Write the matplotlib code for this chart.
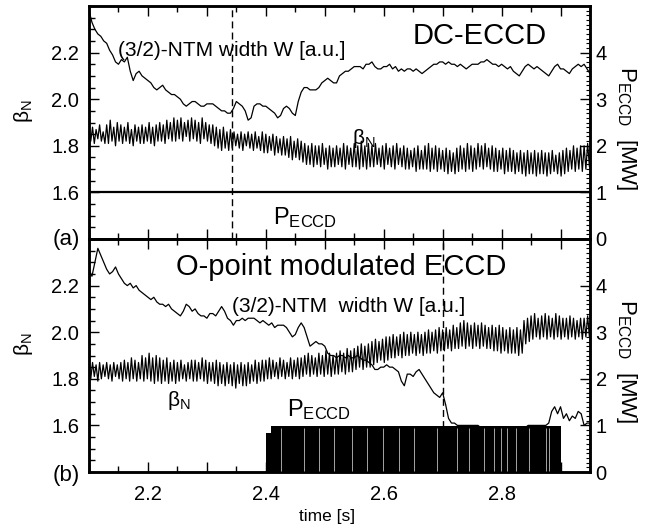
import numpy as np
import matplotlib
matplotlib.use("Agg")
import matplotlib.pyplot as plt
from matplotlib.ticker import MultipleLocator, FixedLocator, FuncFormatter

plt.rcParams['font.family'] = ['Liberation Sans', 'DejaVu Sans']
plt.rcParams['mathtext.fontset'] = 'custom'
plt.rcParams['mathtext.rm'] = 'Liberation Sans'
plt.rcParams['mathtext.it'] = 'Liberation Sans:italic'
plt.rcParams['mathtext.bf'] = 'Liberation Sans:bold'

# ---------------- data ----------------
t_start = 2.10
w_step = 0.005      # sampling of the NTM width traces [s]
beta_step = 0.003   # sampling of the beta_N traces [s]

# (a) DC-ECCD: NTM width W [a.u., plotted on beta_N scale]
W_a = [2.38, 2.33, 2.30, 2.28, 2.27, 2.25, 2.24, 2.21, 2.19, 2.16,
       2.15, 2.17, 2.16, 2.18, 2.12, 2.08, 2.11, 2.12, 2.10, 2.09,
       2.08, 2.07, 2.05, 2.04, 2.05, 2.06, 2.04, 2.03, 2.02, 2.02,
       2.01, 2.00, 1.98, 1.97, 1.98, 1.99, 1.99, 1.98, 1.97, 1.97,
       1.98, 1.98, 1.98, 1.97, 1.96, 1.95, 1.95, 1.94, 1.94, 1.96,
       1.99, 1.98, 1.97, 1.95, 1.91, 1.92, 1.97, 1.98, 1.98, 1.97,
       1.97, 1.96, 1.95, 1.94, 1.92, 1.93, 1.96, 1.97, 1.96, 1.94,
       1.93, 1.99, 2.03, 2.05, 2.05, 2.04, 2.04, 2.04, 2.05, 2.07,
       2.08, 2.09, 2.08, 2.07, 2.07, 2.10, 2.11, 2.12, 2.12, 2.13,
       2.14, 2.14, 2.14, 2.13, 2.15, 2.15, 2.16, 2.14, 2.13, 2.13,
       2.14, 2.14, 2.15, 2.13, 2.14, 2.12, 2.13, 2.12, 2.13, 2.13,
       2.12, 2.13, 2.12, 2.11, 2.12, 2.13, 2.14, 2.15, 2.15, 2.16,
       2.16, 2.15, 2.16, 2.15, 2.15, 2.14, 2.15, 2.14, 2.13, 2.14,
       2.15, 2.15, 2.15, 2.16, 2.16, 2.17, 2.16, 2.15, 2.15, 2.14,
       2.15, 2.14, 2.13, 2.14, 2.12, 2.11, 2.10, 2.12, 2.14, 2.15,
       2.14, 2.13, 2.14, 2.13, 2.12, 2.11, 2.10, 2.12, 2.14, 2.15,
       2.13, 2.13, 2.12, 2.11, 2.13, 2.14, 2.15, 2.14, 2.15, 2.13,
       2.11]

# (a) beta_N
beta_a = [1.86, 1.82, 1.88, 1.81, 1.87, 1.83, 1.89, 1.82, 1.86, 1.81,
          1.89, 1.81, 1.91, 1.82, 1.88, 1.80, 1.90, 1.82, 1.89, 1.81,
          1.88, 1.82, 1.90, 1.81, 1.87, 1.80, 1.89, 1.82, 1.88, 1.81,
          1.89, 1.81, 1.88, 1.82, 1.90, 1.81, 1.88, 1.80, 1.89, 1.82,
          1.90, 1.82, 1.89, 1.81, 1.91, 1.83, 1.90, 1.82, 1.92, 1.82,
          1.91, 1.83, 1.92, 1.82, 1.90, 1.84, 1.91, 1.82, 1.92, 1.83,
          1.91, 1.82, 1.90, 1.81, 1.92, 1.83, 1.90, 1.82, 1.89, 1.81,
          1.89, 1.80, 1.88, 1.79, 1.87, 1.78, 1.88, 1.79, 1.86, 1.78,
          1.87, 1.79, 1.86, 1.80, 1.85, 1.79, 1.86, 1.78, 1.85, 1.80,
          1.86, 1.79, 1.85, 1.78, 1.86, 1.79, 1.84, 1.78, 1.86, 1.77,
          1.85, 1.77, 1.84, 1.78, 1.85, 1.76, 1.84, 1.77, 1.83, 1.76,
          1.84, 1.76, 1.83, 1.75, 1.84, 1.74, 1.82, 1.75, 1.83, 1.74,
          1.82, 1.73, 1.81, 1.72, 1.80, 1.72, 1.81, 1.71, 1.80, 1.72,
          1.80, 1.71, 1.81, 1.72, 1.79, 1.70, 1.80, 1.71, 1.79, 1.71,
          1.80, 1.72, 1.79, 1.71, 1.81, 1.70, 1.80, 1.72, 1.79, 1.71,
          1.81, 1.71, 1.80, 1.70, 1.82, 1.71, 1.80, 1.70, 1.81, 1.71,
          1.80, 1.71, 1.81, 1.72, 1.79, 1.71, 1.80, 1.70, 1.81, 1.72,
          1.79, 1.71, 1.80, 1.70, 1.81, 1.72, 1.79, 1.71, 1.80, 1.70,
          1.79, 1.70, 1.78, 1.71, 1.79, 1.69, 1.80, 1.70, 1.78, 1.70,
          1.80, 1.70, 1.81, 1.69, 1.79, 1.70, 1.80, 1.69, 1.79, 1.70,
          1.78, 1.69, 1.79, 1.68, 1.78, 1.69, 1.77, 1.68, 1.79, 1.69,
          1.80, 1.70, 1.79, 1.69, 1.81, 1.70, 1.80, 1.69, 1.79, 1.70,
          1.81, 1.71, 1.80, 1.70, 1.81, 1.71, 1.79, 1.70, 1.80, 1.69,
          1.79, 1.69, 1.78, 1.70, 1.79, 1.68, 1.78, 1.69, 1.79, 1.69,
          1.78, 1.68, 1.77, 1.69, 1.78, 1.68, 1.77, 1.67, 1.78, 1.68,
          1.77, 1.68, 1.78, 1.67, 1.77, 1.68, 1.78, 1.68, 1.77, 1.67,
          1.77, 1.68, 1.78, 1.69, 1.76, 1.68, 1.77, 1.67, 1.78, 1.68,
          1.79, 1.69, 1.78, 1.70, 1.80, 1.69, 1.79, 1.70, 1.80, 1.69,
          1.80, 1.70, 1.81, 1.71, 1.80, 1.70, 1.79, 1.71, 1.80, 1.70]

# (a) P_ECCD [MW]: constant DC power
P_a_t = [2.10, 2.95]
P_a = [1.0, 1.0]
mark_a = 2.343   # dashed marker time

# (b) O-point modulated ECCD: NTM width W
W_b = [2.27, 2.24, 2.30, 2.36, 2.33, 2.30, 2.27, 2.25, 2.26, 2.28,
       2.25, 2.23, 2.21, 2.20, 2.21, 2.19, 2.20, 2.18, 2.17, 2.16,
       2.15, 2.14, 2.15, 2.13, 2.12, 2.12, 2.11, 2.12, 2.10, 2.09,
       2.08, 2.07, 2.09, 2.12, 2.11, 2.09, 2.10, 2.08, 2.07, 2.07,
       2.06, 2.08, 2.08, 2.07, 2.09, 2.11, 2.09, 2.06, 2.05, 2.03,
       2.05, 2.05, 2.06, 2.05, 2.06, 2.06, 2.06, 2.05, 2.04, 2.05,
       2.04, 2.03, 2.04, 2.02, 2.03, 2.03, 2.03, 2.02, 2.00, 1.98,
       1.99, 2.02, 2.04, 2.02, 1.98, 1.94, 1.95, 1.96, 1.95, 1.95,
       1.94, 1.91, 1.90, 1.90, 1.89, 1.90, 1.90, 1.89, 1.90, 1.89,
       1.89, 1.90, 1.89, 1.88, 1.88, 1.87, 1.86, 1.84, 1.84, 1.85,
       1.85, 1.86, 1.85, 1.85, 1.84, 1.83, 1.79, 1.77, 1.82, 1.82,
       1.81, 1.83, 1.84, 1.82, 1.80, 1.78, 1.76, 1.74, 1.73, 1.72,
       1.74, 1.69, 1.63, 1.61, 1.61, 1.60, 1.60, 1.60, 1.60, 1.60,
       1.60, 1.60, 1.60, 1.59, 1.59, 1.58, 1.58, 1.57, 1.57, 1.56,
       1.56, 1.55, 1.56, 1.57, 1.57, 1.58, 1.59, 1.59, 1.59, 1.60,
       1.60, 1.60, 1.60, 1.60, 1.60, 1.60, 1.61, 1.66, 1.68, 1.65,
       1.68, 1.63, 1.65, 1.62, 1.64, 1.63, 1.66, 1.65, 1.60, 1.61,
       1.61]

# (b) beta_N
beta_b = [1.86, 1.80, 1.87, 1.81, 1.86, 1.79, 1.87, 1.80, 1.86, 1.81,
          1.87, 1.80, 1.86, 1.79, 1.87, 1.81, 1.86, 1.80, 1.87, 1.79,
          1.88, 1.80, 1.87, 1.79, 1.89, 1.80, 1.88, 1.79, 1.87, 1.80,
          1.90, 1.79, 1.89, 1.80, 1.91, 1.79, 1.89, 1.78, 1.90, 1.79,
          1.89, 1.78, 1.88, 1.79, 1.89, 1.78, 1.87, 1.79, 1.88, 1.78,
          1.87, 1.79, 1.88, 1.80, 1.86, 1.79, 1.87, 1.80, 1.88, 1.79,
          1.88, 1.79, 1.87, 1.80, 1.89, 1.79, 1.88, 1.78, 1.87, 1.79,
          1.87, 1.78, 1.88, 1.77, 1.87, 1.78, 1.86, 1.77, 1.87, 1.78,
          1.86, 1.77, 1.87, 1.76, 1.86, 1.78, 1.87, 1.77, 1.86, 1.77,
          1.87, 1.78, 1.86, 1.79, 1.88, 1.78, 1.87, 1.79, 1.88, 1.79,
          1.88, 1.80, 1.89, 1.80, 1.88, 1.81, 1.87, 1.80, 1.89, 1.81,
          1.88, 1.80, 1.87, 1.81, 1.89, 1.80, 1.88, 1.81, 1.89, 1.80,
          1.89, 1.81, 1.90, 1.82, 1.91, 1.81, 1.90, 1.82, 1.89, 1.81,
          1.91, 1.82, 1.90, 1.81, 1.92, 1.82, 1.91, 1.81, 1.90, 1.82,
          1.91, 1.82, 1.92, 1.83, 1.91, 1.82, 1.93, 1.83, 1.92, 1.83,
          1.93, 1.84, 1.94, 1.85, 1.95, 1.84, 1.94, 1.85, 1.95, 1.85,
          1.96, 1.86, 1.97, 1.87, 1.96, 1.88, 1.97, 1.87, 1.98, 1.88,
          1.98, 1.89, 1.99, 1.89, 1.98, 1.90, 1.99, 1.89, 2.00, 1.90,
          1.99, 1.90, 2.00, 1.91, 1.99, 1.90, 2.00, 1.91, 1.99, 1.90,
          2.00, 1.91, 2.01, 1.91, 2.00, 1.92, 2.01, 1.91, 2.02, 1.92,
          2.01, 1.92, 2.02, 1.93, 2.01, 1.92, 2.03, 1.93, 2.02, 1.93,
          2.04, 1.94, 2.05, 1.93, 2.04, 1.94, 2.03, 1.93, 2.04, 1.94,
          2.03, 1.93, 2.04, 1.94, 2.03, 1.93, 2.02, 1.93, 2.03, 1.92,
          2.02, 1.92, 2.03, 1.91, 2.02, 1.92, 2.01, 1.91, 2.02, 1.91,
          2.01, 1.91, 2.02, 1.90, 2.01, 1.91, 2.05, 1.95, 2.06, 1.96,
          2.07, 1.97, 2.08, 1.98, 2.06, 1.97, 2.07, 1.98, 2.08, 1.97,
          2.07, 1.98, 2.06, 1.97, 2.08, 1.98, 2.07, 1.97, 2.06, 1.98,
          2.06, 1.97, 2.07, 1.98, 2.06, 1.97, 2.05, 1.98, 2.06, 1.97,
          2.06, 1.98, 2.07, 1.98, 2.06, 1.99, 2.07, 1.98, 2.06, 1.98]

# (b) P_ECCD [MW]: modulated power, envelope steps and gaps between pulses
P_b_t = [2.400, 2.408, 2.900]
P_b = [0.84, 0.98, 0.98]
P_b_gaps = [2.425, 2.465, 2.490, 2.516, 2.547, 2.572, 2.598, 2.626,
            2.651, 2.691, 2.725, 2.745, 2.770, 2.787, 2.799,
            2.810, 2.824, 2.847, 2.875, 2.881]
mark_b = 2.700

beta_ticks = [1.6, 1.8, 2.0, 2.2]
p_ticks = [0, 1, 2, 3, 4]

# ---------------- figure ----------------
W, H = 664, 528
fig = plt.figure(figsize=(W / 100, H / 100), dpi=100)

def box(l, t, r, b):
    return [l / W, 1 - b / H, (r - l) / W, (b - t) / H]

ax_a = fig.add_axes(box(89, 6, 590, 239))
ax_b = fig.add_axes(box(89, 239, 590, 472))

def xfmt(x, pos):
    k = int(round(x * 10))
    if k % 2 == 0 and 21 < k < 29:
        return f"{x:.1f}"
    return ""

panels = []
for ax, Wv, bv, mark in [(ax_a, W_a, beta_a, mark_a), (ax_b, W_b, beta_b, mark_b)]:
    tw = t_start + w_step * np.arange(len(Wv))
    tb = t_start + beta_step * np.arange(len(bv))
    ax.plot(tw, Wv, color='black', lw=0.9, zorder=3)
    ax.plot(tb, bv, color='black', lw=0.9, zorder=3)
    ax.axvline(mark, color='black', lw=1.0, ls=(0, (5, 3)), zorder=2)
    ax.set_xlim(2.10, 2.95)
    ax.set_ylim(1.40, 2.40)
    ax.yaxis.set_major_locator(FixedLocator(beta_ticks))
    ax.yaxis.set_minor_locator(MultipleLocator(0.05))
    ax.xaxis.set_major_locator(MultipleLocator(0.1))
    ax.xaxis.set_minor_locator(MultipleLocator(0.05))
    ax.xaxis.set_major_formatter(FuncFormatter(xfmt))
    ax.yaxis.set_major_formatter(FuncFormatter(lambda v, p: f"{v:.1f}"))
    ax.tick_params(axis='both', which='major', direction='in', length=7, width=1.0,
                   labelsize=14.5, top=True, right=False)
    ax.tick_params(axis='both', which='minor', direction='in', length=4, width=1.0,
                   top=True, right=False)
    ax.tick_params(axis='y', pad=7)
    ax.tick_params(axis='x', pad=9)
    for s in ax.spines.values():
        s.set_linewidth(1.8)
    ax2 = ax.twinx()
    ax2.set_ylim(0, 5)
    ax2.yaxis.set_major_locator(FixedLocator(p_ticks))
    ax2.yaxis.set_minor_locator(MultipleLocator(0.1))
    ax2.tick_params(axis='y', which='major', direction='in', length=7, width=1.0,
                    labelsize=14.5, pad=4)
    ax2.tick_params(axis='y', which='minor', direction='in', length=3, width=0.8)
    for s in ax2.spines.values():
        s.set_linewidth(1.8)
    ax2.set_ylabel(r'$\mathregular{P_{ECCD}}$  [MW]', rotation=270, fontsize=16)
    ax2.yaxis.set_label_coords(1.098, 0.476)
    ax.set_ylabel(r'$\mathregular{β_N}$', fontsize=15)
    ax.yaxis.set_label_coords(-0.107, 0.55)
    panels.append(ax2)

ax_a.tick_params(axis='x', labelbottom=False)

# P_ECCD traces
pa = panels[0]
pa.plot(P_a_t, P_a, color='black', lw=1.6, zorder=4)
pb = panels[1]
pb.fill_between(P_b_t, 0, P_b, step='post', color='black', lw=0, zorder=4)
pb.vlines(P_b_gaps, 0.03, 0.95, color='white', lw=0.45, zorder=5)

# annotations
ax_a.text(2.150, 2.185, '(3/2)-NTM width W [a.u.]', fontsize=15, va='baseline')
ax_a.text(2.649, 2.237, 'DC-ECCD', fontsize=21, va='baseline')
ax_a.text(2.547, 1.808, r'$\mathregular{β_N}$', fontsize=15, va='baseline')
ax_a.text(2.412, 1.464, r'$\mathregular{P_{ECCD}}$', fontsize=17, va='baseline')

ax_b.text(2.248, 2.245, 'O-point modulated ECCD', fontsize=21, va='baseline')
ax_b.text(2.342, 2.087, '(3/2)-NTM  width W [a.u.]', fontsize=15, va='baseline')
ax_b.text(2.233, 1.683, r'$\mathregular{β_N}$', fontsize=15, va='baseline')
ax_b.text(2.436, 1.640, r'$\mathregular{P_{ECCD}}$', fontsize=17, va='baseline')

fig.text(80 / W, 1 - 240 / H, '(a)', fontsize=16, ha='right', va='center')
fig.text(80 / W, 1 - 476 / H, '(b)', fontsize=16, ha='right', va='center')
fig.text(327 / W, 1 - 517 / H, 'time [s]', fontsize=12.5, ha='center', va='center')

fig.savefig('out.png', dpi=100)
